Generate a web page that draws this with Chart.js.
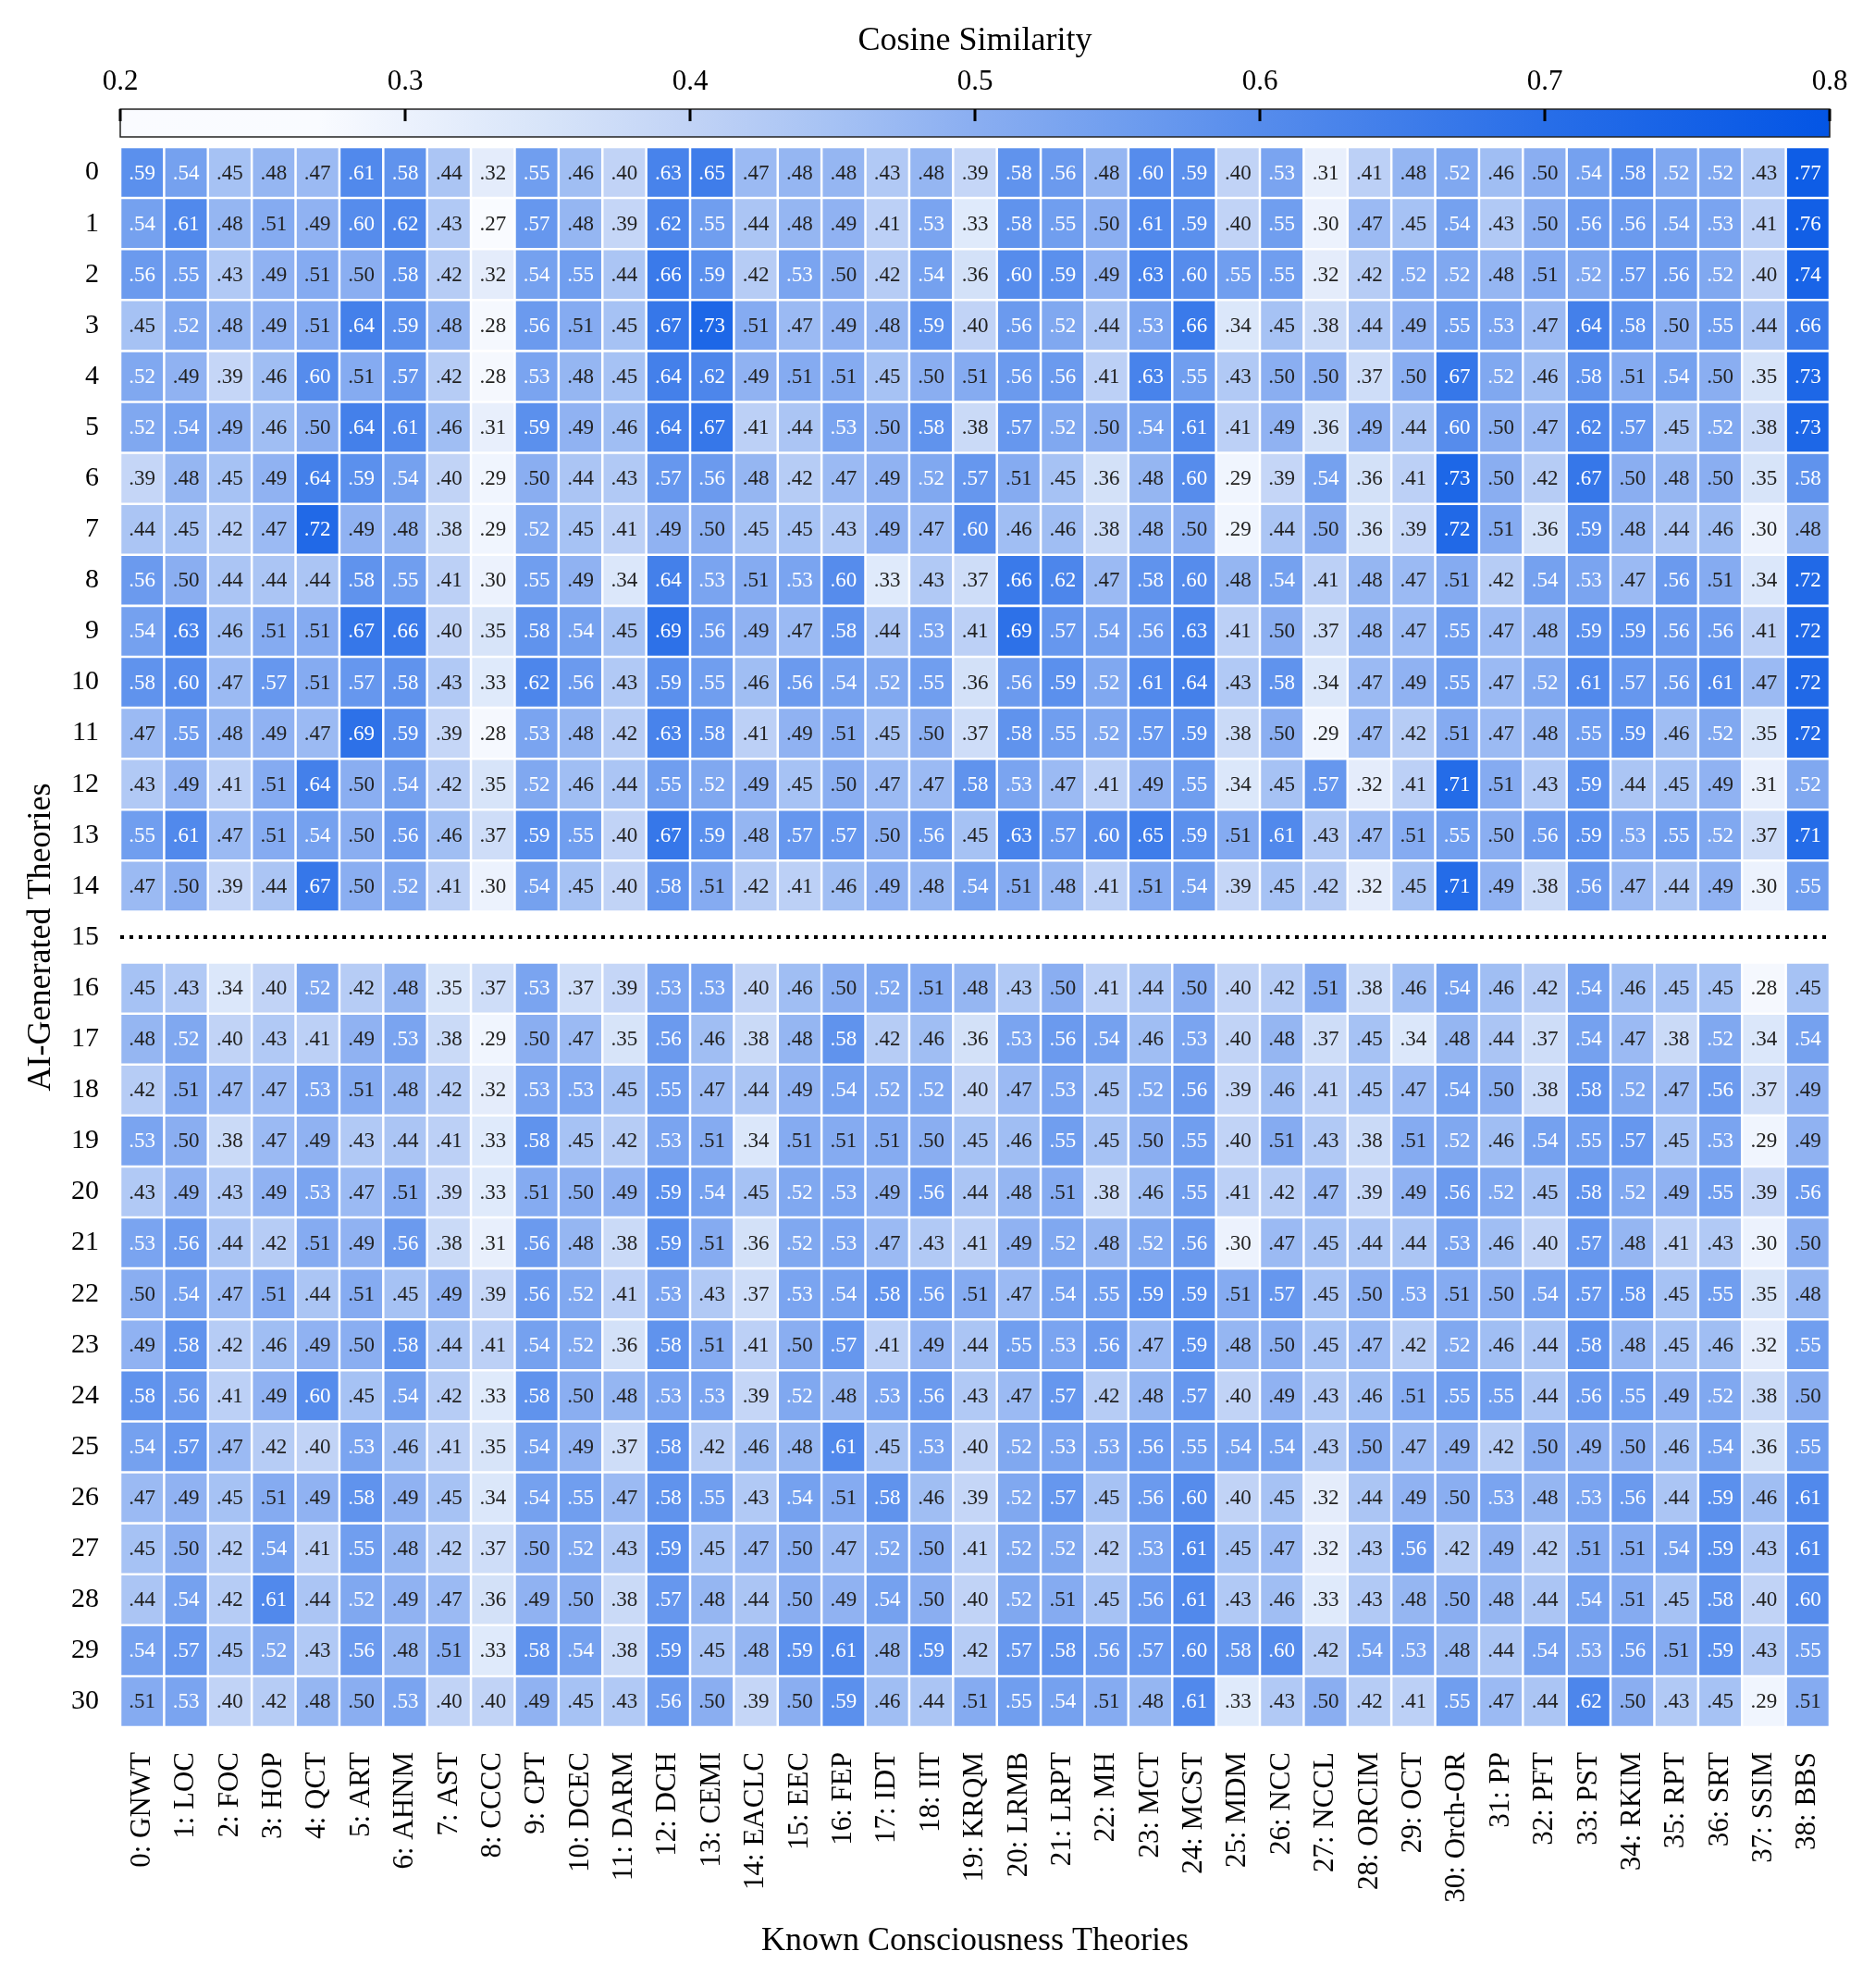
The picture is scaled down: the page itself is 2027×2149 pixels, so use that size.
<!DOCTYPE html>
<html><head><meta charset="utf-8">
<script src="https://cdn.jsdelivr.net/npm/chart.js@4.4.1/dist/chart.umd.min.js"></script>
<style>html,body{margin:0;padding:0;background:#fff}</style>
</head><body>
<canvas id="c" width="2027" height="2149" style="width:2027px;height:2149px;display:block"></canvas>
<script>
// ---------- DATA ----------
const columns = ["0: GNWT","1: LOC","2: FOC","3: HOP","4: QCT","5: ART","6: AHNM","7: AST","8: CCCC","9: CPT",
  "10: DCEC","11: DARM","12: DCH","13: CEMI","14: EACLC","15: EEC","16: FEP","17: IDT","18: IIT","19: KRQM",
  "20: LRMB","21: LRPT","22: MH","23: MCT","24: MCST","25: MDM","26: NCC","27: NCCL","28: ORCIM","29: OCT",
  "30: Orch-OR","31: PP","32: PFT","33: PST","34: RKIM","35: RPT","36: SRT","37: SSIM","38: BBS"];
const rowTicks = [0,1,2,3,4,5,6,7,8,9,10,11,12,13,14,15,16,17,18,19,20,21,22,23,24,25,26,27,28,29,30];
const rowIds = [0,1,2,3,4,5,6,7,8,9,10,11,12,13,14,16,17,18,19,20,21,22,23,24,25,26,27,28,29,30];
const separatorRow = 15;
const colorbarTicks = [0.2,0.3,0.4,0.5,0.6,0.7,0.8];
const values = [
/*0*/ [.59,.54,.45,.48,.47,.61,.58,.44,.32,.55,.46,.40,.63,.65,.47,.48,.48,.43,.48,.39,.58,.56,.48,.60,.59,.40,.53,.31,.41,.48,.52,.46,.50,.54,.58,.52,.52,.43,.77],
/*1*/ [.54,.61,.48,.51,.49,.60,.62,.43,.27,.57,.48,.39,.62,.55,.44,.48,.49,.41,.53,.33,.58,.55,.50,.61,.59,.40,.55,.30,.47,.45,.54,.43,.50,.56,.56,.54,.53,.41,.76],
/*2*/ [.56,.55,.43,.49,.51,.50,.58,.42,.32,.54,.55,.44,.66,.59,.42,.53,.50,.42,.54,.36,.60,.59,.49,.63,.60,.55,.55,.32,.42,.52,.52,.48,.51,.52,.57,.56,.52,.40,.74],
/*3*/ [.45,.52,.48,.49,.51,.64,.59,.48,.28,.56,.51,.45,.67,.73,.51,.47,.49,.48,.59,.40,.56,.52,.44,.53,.66,.34,.45,.38,.44,.49,.55,.53,.47,.64,.58,.50,.55,.44,.66],
/*4*/ [.52,.49,.39,.46,.60,.51,.57,.42,.28,.53,.48,.45,.64,.62,.49,.51,.51,.45,.50,.51,.56,.56,.41,.63,.55,.43,.50,.50,.37,.50,.67,.52,.46,.58,.51,.54,.50,.35,.73],
/*5*/ [.52,.54,.49,.46,.50,.64,.61,.46,.31,.59,.49,.46,.64,.67,.41,.44,.53,.50,.58,.38,.57,.52,.50,.54,.61,.41,.49,.36,.49,.44,.60,.50,.47,.62,.57,.45,.52,.38,.73],
/*6*/ [.39,.48,.45,.49,.64,.59,.54,.40,.29,.50,.44,.43,.57,.56,.48,.42,.47,.49,.52,.57,.51,.45,.36,.48,.60,.29,.39,.54,.36,.41,.73,.50,.42,.67,.50,.48,.50,.35,.58],
/*7*/ [.44,.45,.42,.47,.72,.49,.48,.38,.29,.52,.45,.41,.49,.50,.45,.45,.43,.49,.47,.60,.46,.46,.38,.48,.50,.29,.44,.50,.36,.39,.72,.51,.36,.59,.48,.44,.46,.30,.48],
/*8*/ [.56,.50,.44,.44,.44,.58,.55,.41,.30,.55,.49,.34,.64,.53,.51,.53,.60,.33,.43,.37,.66,.62,.47,.58,.60,.48,.54,.41,.48,.47,.51,.42,.54,.53,.47,.56,.51,.34,.72],
/*9*/ [.54,.63,.46,.51,.51,.67,.66,.40,.35,.58,.54,.45,.69,.56,.49,.47,.58,.44,.53,.41,.69,.57,.54,.56,.63,.41,.50,.37,.48,.47,.55,.47,.48,.59,.59,.56,.56,.41,.72],
/*10*/[.58,.60,.47,.57,.51,.57,.58,.43,.33,.62,.56,.43,.59,.55,.46,.56,.54,.52,.55,.36,.56,.59,.52,.61,.64,.43,.58,.34,.47,.49,.55,.47,.52,.61,.57,.56,.61,.47,.72],
/*11*/[.47,.55,.48,.49,.47,.69,.59,.39,.28,.53,.48,.42,.63,.58,.41,.49,.51,.45,.50,.37,.58,.55,.52,.57,.59,.38,.50,.29,.47,.42,.51,.47,.48,.55,.59,.46,.52,.35,.72],
/*12*/[.43,.49,.41,.51,.64,.50,.54,.42,.35,.52,.46,.44,.55,.52,.49,.45,.50,.47,.47,.58,.53,.47,.41,.49,.55,.34,.45,.57,.32,.41,.71,.51,.43,.59,.44,.45,.49,.31,.52],
/*13*/[.55,.61,.47,.51,.54,.50,.56,.46,.37,.59,.55,.40,.67,.59,.48,.57,.57,.50,.56,.45,.63,.57,.60,.65,.59,.51,.61,.43,.47,.51,.55,.50,.56,.59,.53,.55,.52,.37,.71],
/*14*/[.47,.50,.39,.44,.67,.50,.52,.41,.30,.54,.45,.40,.58,.51,.42,.41,.46,.49,.48,.54,.51,.48,.41,.51,.54,.39,.45,.42,.32,.45,.71,.49,.38,.56,.47,.44,.49,.30,.55],
/*16*/[.45,.43,.34,.40,.52,.42,.48,.35,.37,.53,.37,.39,.53,.53,.40,.46,.50,.52,.51,.48,.43,.50,.41,.44,.50,.40,.42,.51,.38,.46,.54,.46,.42,.54,.46,.45,.45,.28,.45],
/*17*/[.48,.52,.40,.43,.41,.49,.53,.38,.29,.50,.47,.35,.56,.46,.38,.48,.58,.42,.46,.36,.53,.56,.54,.46,.53,.40,.48,.37,.45,.34,.48,.44,.37,.54,.47,.38,.52,.34,.54],
/*18*/[.42,.51,.47,.47,.53,.51,.48,.42,.32,.53,.53,.45,.55,.47,.44,.49,.54,.52,.52,.40,.47,.53,.45,.52,.56,.39,.46,.41,.45,.47,.54,.50,.38,.58,.52,.47,.56,.37,.49],
/*19*/[.53,.50,.38,.47,.49,.43,.44,.41,.33,.58,.45,.42,.53,.51,.34,.51,.51,.51,.50,.45,.46,.55,.45,.50,.55,.40,.51,.43,.38,.51,.52,.46,.54,.55,.57,.45,.53,.29,.49],
/*20*/[.43,.49,.43,.49,.53,.47,.51,.39,.33,.51,.50,.49,.59,.54,.45,.52,.53,.49,.56,.44,.48,.51,.38,.46,.55,.41,.42,.47,.39,.49,.56,.52,.45,.58,.52,.49,.55,.39,.56],
/*21*/[.53,.56,.44,.42,.51,.49,.56,.38,.31,.56,.48,.38,.59,.51,.36,.52,.53,.47,.43,.41,.49,.52,.48,.52,.56,.30,.47,.45,.44,.44,.53,.46,.40,.57,.48,.41,.43,.30,.50],
/*22*/[.50,.54,.47,.51,.44,.51,.45,.49,.39,.56,.52,.41,.53,.43,.37,.53,.54,.58,.56,.51,.47,.54,.55,.59,.59,.51,.57,.45,.50,.53,.51,.50,.54,.57,.58,.45,.55,.35,.48],
/*23*/[.49,.58,.42,.46,.49,.50,.58,.44,.41,.54,.52,.36,.58,.51,.41,.50,.57,.41,.49,.44,.55,.53,.56,.47,.59,.48,.50,.45,.47,.42,.52,.46,.44,.58,.48,.45,.46,.32,.55],
/*24*/[.58,.56,.41,.49,.60,.45,.54,.42,.33,.58,.50,.48,.53,.53,.39,.52,.48,.53,.56,.43,.47,.57,.42,.48,.57,.40,.49,.43,.46,.51,.55,.55,.44,.56,.55,.49,.52,.38,.50],
/*25*/[.54,.57,.47,.42,.40,.53,.46,.41,.35,.54,.49,.37,.58,.42,.46,.48,.61,.45,.53,.40,.52,.53,.53,.56,.55,.54,.54,.43,.50,.47,.49,.42,.50,.49,.50,.46,.54,.36,.55],
/*26*/[.47,.49,.45,.51,.49,.58,.49,.45,.34,.54,.55,.47,.58,.55,.43,.54,.51,.58,.46,.39,.52,.57,.45,.56,.60,.40,.45,.32,.44,.49,.50,.53,.48,.53,.56,.44,.59,.46,.61],
/*27*/[.45,.50,.42,.54,.41,.55,.48,.42,.37,.50,.52,.43,.59,.45,.47,.50,.47,.52,.50,.41,.52,.52,.42,.53,.61,.45,.47,.32,.43,.56,.42,.49,.42,.51,.51,.54,.59,.43,.61],
/*28*/[.44,.54,.42,.61,.44,.52,.49,.47,.36,.49,.50,.38,.57,.48,.44,.50,.49,.54,.50,.40,.52,.51,.45,.56,.61,.43,.46,.33,.43,.48,.50,.48,.44,.54,.51,.45,.58,.40,.60],
/*29*/[.54,.57,.45,.52,.43,.56,.48,.51,.33,.58,.54,.38,.59,.45,.48,.59,.61,.48,.59,.42,.57,.58,.56,.57,.60,.58,.60,.42,.54,.53,.48,.44,.54,.53,.56,.51,.59,.43,.55],
/*30*/[.51,.53,.40,.42,.48,.50,.53,.40,.40,.49,.45,.43,.56,.50,.39,.50,.59,.46,.44,.51,.55,.54,.51,.48,.61,.33,.43,.50,.42,.41,.55,.47,.44,.62,.50,.43,.45,.29,.51]
];

// ---------- STYLE ----------
const FONT = '"Liberation Serif", "Times New Roman", serif';
const colorStops = [
  [0.20,[250,251,255]],[0.27,[249,251,255]],[0.30,[236,242,253]],[0.35,[215,228,249]],
  [0.40,[193,211,246]],[0.45,[166,194,244]],[0.50,[138,174,241]],[0.55,[112,158,239]],
  [0.60,[86,140,236]],[0.65,[63,125,234]],[0.70,[40,110,232]],[0.80,[3,85,229]]
];
function colorFor(v){
  if (v <= colorStops[0][0]) return rgb(colorStops[0][1]);
  for (let i=1;i<colorStops.length;i++){
    const [v1,c1]=colorStops[i], [v0,c0]=colorStops[i-1];
    if (v <= v1){
      const t=(v-v0)/(v1-v0);
      return rgb(c0.map((a,k)=>a+(c1[k]-a)*t));
    }
  }
  return rgb(colorStops[colorStops.length-1][1]);
}
function rgb(c){ return 'rgb('+c.map(x=>Math.round(x)).join(',')+')'; }
function fmt(v){ return v.toFixed(2).replace(/^0/, ''); }

const datasets = rowIds.map((r,i)=>({
  type:'bar', label:'Row '+r, xAxisID:'x', yAxisID:'y', grouped:false,
  data: values[i].map((v,j)=>({x:columns[j], y:[r-0.5, r+0.5], v:v})),
  backgroundColor: ctx => colorFor(ctx.raw ? ctx.raw.v : 0.5),
  borderColor:'#ffffff', borderWidth:1.6, borderSkipped:false,
  barPercentage:1, categoryPercentage:1
}));
datasets.push({
  type:'line', label:'separator', xAxisID:'xl', yAxisID:'y',
  data:[{x:-0.5,y:separatorRow},{x:columns.length-0.5,y:separatorRow}],
  borderColor:'#000', borderWidth:4, borderDash:[4,6], borderCapStyle:'butt',
  pointRadius:0, fill:false
});

const overlay = {
  id:'overlay',
  afterDatasetsDraw(chart){
    const ctx = chart.ctx;
    ctx.save();
    ctx.font = 'normal 400 23px "Liberation Serif"';
    ctx.textAlign='center'; ctx.textBaseline='middle';
    chart.data.datasets.forEach((ds,di)=>{
      if (ds.type!=='bar') return;
      const meta = chart.getDatasetMeta(di);
      meta.data.forEach((el,j)=>{
        const v = ds.data[j].v;
        ctx.fillStyle = v >= 0.52 ? '#ffffff' : '#222222';
        ctx.fillText(fmt(v), el.x, (el.y+el.base)/2 + 1);
      });
    });
    // colorbar
    const cb = chart.scales.cb;
    const x0 = cb.getPixelForValue(cb.min), x1 = cb.getPixelForValue(cb.max);
    const top = chart.chartArea.top;
    const y0 = top-41, y1 = top-11;
    const g = ctx.createLinearGradient(x0,0,x1,0);
    colorStops.forEach(([v,c])=>g.addColorStop((v-cb.min)/(cb.max-cb.min), rgb(c)));
    ctx.fillStyle = g;
    ctx.fillRect(x0,y0,x1-x0,y1-y0);
    ctx.strokeStyle='#222'; ctx.lineWidth=1.5;
    ctx.strokeRect(x0,y0,x1-x0,y1-y0);
    ctx.fillStyle='#000';
    colorbarTicks.forEach(t=>{
      const px = cb.getPixelForValue(t);
      ctx.fillRect(px-1.5, y0, 3, 13);
    });
    ctx.restore();
  }
};

new Chart(document.getElementById('c'), {
  data:{ labels: columns, datasets },
  options:{
    responsive:false, animation:false, devicePixelRatio:1,
    layout:{ padding:{ left:0, right:49, top:0, bottom:0 } },
    plugins:{ legend:{display:false}, tooltip:{enabled:false} },
    scales:{
      x:{ type:'category', position:'bottom', offset:true,
        grid:{display:false}, border:{display:false},
        ticks:{ autoSkip:false, maxRotation:90, minRotation:90, padding:19, color:'#000', font:{family:FONT, size:31} },
        title:{ display:true, text:'Known Consciousness Theories', color:'#000', font:{family:FONT, size:36}, padding:{top:0,bottom:29} },
        afterFit: s => { s.height = 282; }
      },
      xl:{ type:'linear', display:false, min:-0.5, max:columns.length-0.5 },
      cb:{ type:'linear', axis:'x', position:'top', min:0.2, max:0.8,
        afterBuildTicks: s => { s.ticks = colorbarTicks.map(v=>({value:v})); },
        grid:{display:true, drawOnChartArea:false, drawTicks:true, tickLength:42, tickColor:'rgba(0,0,0,0)'},
        border:{display:false},
        ticks:{ padding:10, maxRotation:0, color:'#000', font:{family:FONT, size:31}, callback: v => Number(v).toFixed(1) },
        title:{ display:true, text:'Cosine Similarity', color:'#000', font:{family:FONT, size:36}, padding:{top:23,bottom:0} },
        afterFit: s => { s.height = 159; }
      },
      y:{ type:'linear', position:'left', reverse:true, min:-0.5, max:rowTicks.length-0.5,
        afterBuildTicks: s => { s.ticks = rowTicks.map(v=>({value:v})); },
        grid:{display:false}, border:{display:false},
        ticks:{ padding:15, color:'#000', font:{family:FONT, size:30}, callback: v => String(v) },
        title:{ display:true, text:'AI-Generated Theories', color:'#000', font:{family:FONT, size:36}, padding:{top:23,bottom:0} },
        afterFit: s => { s.width = 130; }
      }
    }
  },
  plugins:[overlay]
});
</script>
</body></html>
